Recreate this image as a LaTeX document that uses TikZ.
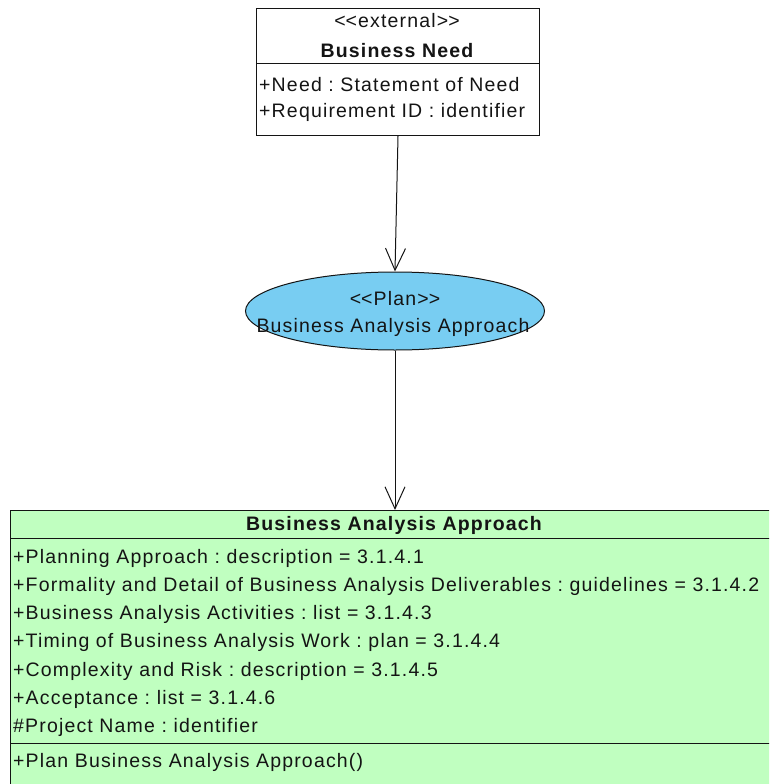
\documentclass[tikz,border=0pt]{standalone}
\usepackage{fontspec}
\setmainfont{Liberation Sans}
\usetikzlibrary{arrows.meta,shapes.geometric}
\definecolor{planblue}{HTML}{78CDF2}
\definecolor{classgreen}{HTML}{C0FFC0}
\definecolor{inkgray}{HTML}{141414}
% guillemet-free stereotype brackets: the kerns keep << and >> as two characters
\newcommand{\stereo}[1]{<\kern0pt<#1>\kern0pt>}
\frenchspacing
\begin{document}
\begin{tikzpicture}[x=1pt,y=-1pt,
  umlbox/.style={draw=inkgray, line width=1pt, inner sep=0pt, anchor=north west},
  sep/.style={draw=inkgray, line width=1pt},
  txt/.style={inner sep=0pt, text=inkgray,
    font=\fontsize{19.5}{22}\selectfont\addfontfeature{LetterSpace=6}},
  btxt/.style={txt, font=\fontsize{19.5}{22}\selectfont\bfseries\addfontfeature{LetterSpace=6}},
  dep/.style={draw=inkgray, line width=1pt,
    -{Straight Barb[length=22pt,width=20pt,line width=1pt]}}]
\useasboundingbox (0,0) rectangle (769,784);
\clip (0,0) rectangle (769,784);
\fill[white] (0,0) rectangle (769,784);

% external business need
\node[umlbox, fill=white, minimum width=283pt, minimum height=127pt] (need) at (256,8) {};
\draw[sep] (256,64) -- (539,64);
\node[txt, anchor=base] (needst) at (397,28) {\stereo{external}};
\node[btxt, anchor=base] (needname) at (397,57) {Business Need};
\node[txt, anchor=base west] (needa1) at (259,91) {+Need : Statement of Need};
\node[txt, anchor=base west] (needa2) at (259,117) {+Requirement ID : identifier};

% plan ellipse
\node[draw=inkgray, line width=1pt, fill=planblue, ellipse, minimum width=299pt,
  minimum height=78pt, inner sep=0pt] (plan) at (395,311) {};
\node[txt, anchor=base] (planst) at (395,305) {\stereo{Plan}};
\node[txt, anchor=base] (planname) at (393,332) {Business Analysis Approach};

% business analysis approach class
\node[umlbox, fill=classgreen, minimum width=768pt, minimum height=300pt] (bap) at (10,510) {};
\draw[sep] (10,538) -- (778,538);
\draw[sep] (10,743) -- (778,743);
\node[btxt, anchor=base] (baptitle) at (394,530) {Business Analysis Approach};
\node[txt, anchor=base west] (b1) at (13,563) {+Planning Approach : description = 3.1.4.1};
\node[txt, anchor=base west] (b2) at (13,591) {+Formality and Detail of Business Analysis Deliverables : guidelines = 3.1.4.2};
\node[txt, anchor=base west] (b3) at (13,619) {+Business Analysis Activities : list = 3.1.4.3};
\node[txt, anchor=base west] (b4) at (13,647) {+Timing of Business Analysis Work : plan = 3.1.4.4};
\node[txt, anchor=base west] (b5) at (13,676) {+Complexity and Risk : description = 3.1.4.5};
\node[txt, anchor=base west] (b6) at (13,704) {+Acceptance : list = 3.1.4.6};
\node[txt, anchor=base west] (b7) at (13,732) {\#Project Name : identifier};
\node[txt, anchor=base west] (op1) at (13,767) {+Plan Business Analysis Approach()};

% dependencies
\draw[dep] (need.south) -- (plan.north);
\draw[dep] (plan.south) -- (plan.south |- bap.north);
\end{tikzpicture}
\end{document}
